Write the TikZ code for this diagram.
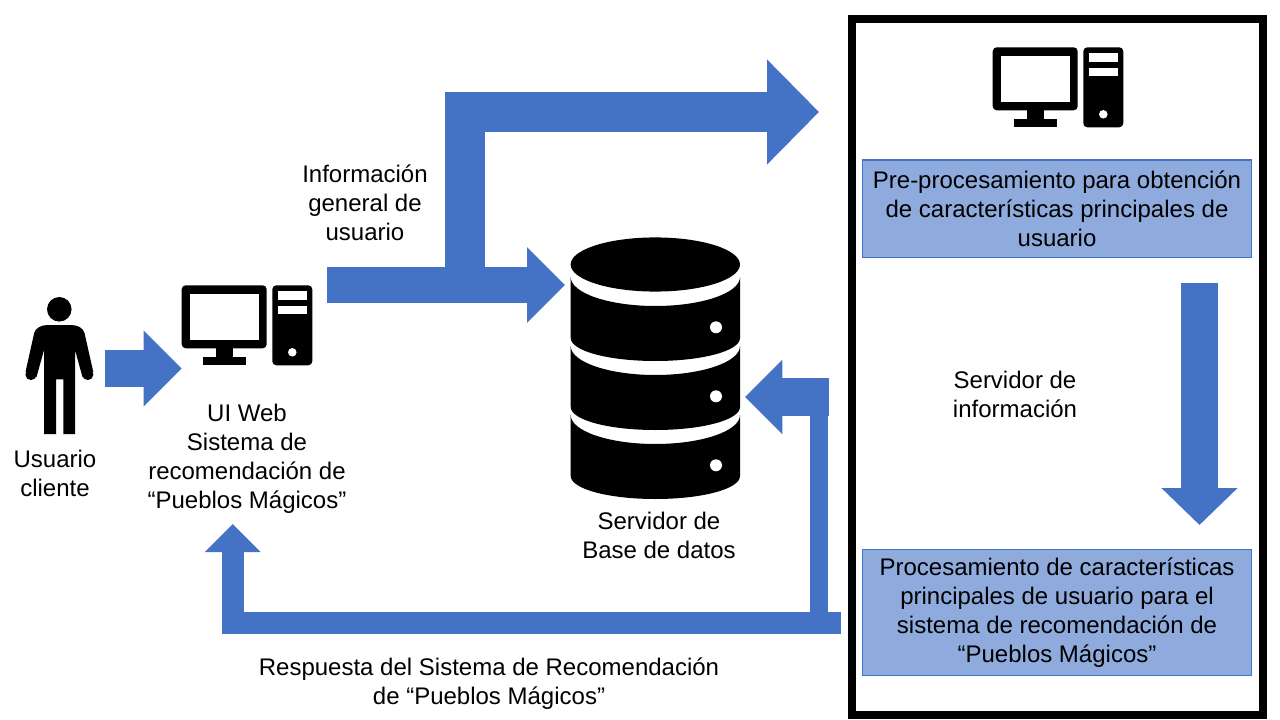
\documentclass[tikz,border=0pt]{standalone}
\usepackage{fontspec}
\setmainfont{Liberation Sans}
\usepackage{xcolor}
\usetikzlibrary{arrows.meta}
\definecolor{arrowblue}{HTML}{4472C4}
\definecolor{boxblue}{HTML}{8FAADC}
\tikzset{
    label/.style={align=center, inner sep=0pt, font=\fontsize{18pt}{21.75pt}\selectfont},
    infobox/.style={draw=arrowblue, fill=boxblue, line width=0.8pt, minimum width=292pt, inner sep=0pt, align=center, font=\fontsize{18pt}{21.75pt}\selectfont},
    % shaft width, head length, head width
    bigarrow/.style n args={3}{draw=arrowblue, line width=#1, -{Triangle[length=#2, width=#3]}},
    pics/pcicon/.style={code={
        \fill[rounded corners=3pt] (0, 0) rectangle (85, 63);
        \fill[white] (8.3, 8.4) rectangle (77.3, 54.4);
        \fill (34, 63) rectangle (51.3, 72);
        \fill (21.3, 72) rectangle (64, 80);
        \fill[rounded corners=3pt] (90.6, 0) rectangle (130.6, 80);
        \fill[white] (96.6, 5.7) rectangle (125, 14.7);
        \fill[white] (96.6, 20.4) rectangle (125, 28.7);
        \fill[white] (110.6, 67) circle[radius=3.2pt];
    }}
}

\begin{document}
\begin{tikzpicture}[x=0.75pt, y=-0.75pt]
    \useasboundingbox (0, 0) rectangle (1280, 720);

    % server frame
    \draw[line width=6pt] (852, 19) rectangle (1263, 714.5);

    % person
    \fill (59.3, 309.3) circle[radius=9.2pt];
    \fill (48, 325) -- (71, 325) .. controls (78, 325) and (83, 328) .. (84.5, 333)
        -- (93.3, 372) -- (82.5, 377) -- (75, 350) -- (75, 434) -- (63.3, 434) -- (63.3, 379.3)
        -- (56, 379.3) -- (56, 434) -- (44, 434) -- (44, 350) -- (36.5, 377) -- (25.5, 372)
        -- (34.2, 333) .. controls (35.5, 328) and (41, 325) .. (48, 325);
    \fill (31, 374.5) circle[radius=4.2pt];
    \fill (87.8, 374.5) circle[radius=4.2pt];

    % computers
    \pic at (992.7, 47.3) {pcicon};
    \pic at (181.7, 285.3) {pcicon};

    % database
    \foreach \dy in {0, 69, 138} {
        \fill (570.7, 277+\dy) .. controls (570.7, 293+\dy) and (608.7, 306+\dy) .. (655.3, 306+\dy)
            .. controls (702, 306+\dy) and (740, 293+\dy) .. (740, 277+\dy)
            -- (740, 338+\dy) .. controls (740, 351+\dy) and (702, 361+\dy) .. (655.3, 361+\dy)
            .. controls (608.7, 361+\dy) and (570.7, 351+\dy) .. (570.7, 338+\dy) -- cycle;
        \fill[white] (716, 327.3+\dy) circle[radius=4.5pt];
    }
    \fill (655.3, 264.5) ellipse[x radius=63.5pt, y radius=20.3pt];

    % labels
    \node[label] at (55, 473.5)   (usuario) {Usuario\\cliente};
    \node[label] at (247, 459)    (web) {UI Web\\Sistema de\\recomendación de\\“Pueblos Mágicos”};
    \node[label] at (365, 202.5)  (general) {Información\\general de\\usuario};
    \node[label] at (659, 535)    (datos) {Servidor de\\Base de datos};
    \node[label] at (1015, 394)   (servidor) {Servidor de\\información};
    \node[label] at (489, 684)    (respuesta) {Respuesta del Sistema de Recomendación\\de “Pueblos Mágicos”};

    \node[infobox, minimum height=73pt] at (1057, 208.7) (pre) {Pre-procesamiento para obtención\\de características principales de\\usuario};
    \node[infobox, minimum height=94.5pt] at (1057, 612.3) (proc) {Procesamiento de características\\principales de usuario para el\\sistema de recomendación de\\“Pueblos Mágicos”};

    % arrow ends
    \coordinate (userout) at (105, 368.5);
    \coordinate (pcin) at (181.7, 368.5);
    \coordinate (pcout) at (327, 285);
    \coordinate (dbin) at (565, 285);
    \coordinate (branch) at (465, 285);
    \coordinate (procin) at (819, 112);
    \coordinate (preout) at (1199.5, 283);
    \coordinate (procout) at (1199.5, 525);
    \coordinate (back) at (841, 622.5);
    \coordinate (webin) at (232.7, 524);
    \coordinate (split) at (819, 622.5);
    \coordinate (dbstart) at (829, 397);
    \coordinate (dbback) at (745, 397);

    % arrows
    \draw[bigarrow={27.5pt}{28.5pt}{55pt}] (userout) -- (pcin);
    \draw[bigarrow={27pt}{28.5pt}{55pt}] (pcout) -- (dbin);
    \draw[bigarrow={30pt}{39pt}{76.5pt}] (branch) -- (branch |- procin) -- (procin);
    \draw[bigarrow={27.75pt}{27.75pt}{55.5pt}] (preout) -- (procout);
    \draw[bigarrow={16.5pt}{21pt}{40.5pt}] (back) -- (webin |- back) -- (webin);
    \draw[draw=arrowblue, line width=13.5pt] (split) -- (split |- dbstart);
    \draw[bigarrow={28pt}{28pt}{54pt}] (dbstart) -- (dbback);
\end{tikzpicture}
\end{document}
